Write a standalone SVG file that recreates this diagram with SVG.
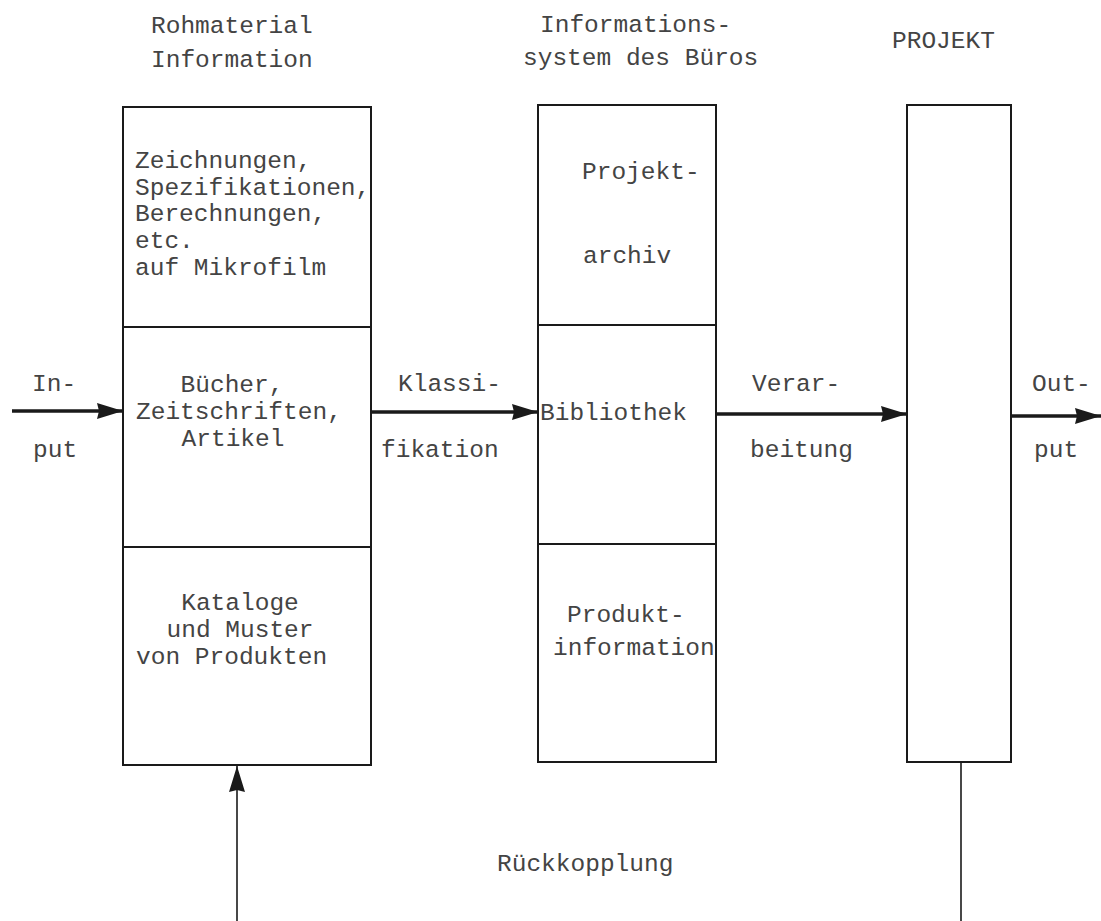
<svg xmlns="http://www.w3.org/2000/svg" width="1101" height="921" viewBox="0 0 1101 921">
<style>
text{font-family:"Liberation Mono","DejaVu Sans Mono",monospace;font-size:24.5px;fill:#444}
.box{fill:none;stroke:#1a1a1a;stroke-width:2}
.thick{stroke:#1a1a1a;stroke-width:3.5;fill:none}
.thin{stroke:#1a1a1a;stroke-width:1.6;fill:none}
.mid{text-anchor:middle}
</style>
<defs>
<marker id="ah" viewBox="0 0 26 16" refX="26" refY="8" markerWidth="26" markerHeight="16" markerUnits="userSpaceOnUse" orient="auto">
<path d="M0,0 L26,8 L0,16 L2,8 Z" fill="#1a1a1a"/>
</marker>
</defs>
<rect width="1101" height="921" fill="#fff"/>
<g id="headings">
<text x="151" y="33">Rohmaterial</text>
<text x="151" y="67">Information</text>
<text x="540" y="32">Informations-</text>
<text x="523" y="65">system des Büros</text>
<text x="892" y="48">PROJEKT</text>
</g>
<g id="rohmaterial">
<rect class="box" x="123" y="107" width="248" height="658"/>
<line class="box" x1="123" y1="327" x2="371" y2="327"/>
<line class="box" x1="123" y1="547" x2="371" y2="547"/>
<g id="mikrofilm">
<text x="135" y="168">Zeichnungen,</text>
<text x="135" y="195">Spezifikationen,</text>
<text x="135" y="221">Berechnungen,</text>
<text x="135" y="248">etc.</text>
<text x="135" y="275">auf Mikrofilm</text>
</g>
<g id="buecher">
<text class="mid" x="232" y="392">Bücher,</text>
<text x="136" y="419">Zeitschriften,</text>
<text class="mid" x="233" y="446">Artikel</text>
</g>
<g id="kataloge">
<text class="mid" x="240" y="610">Kataloge</text>
<text class="mid" x="240" y="637">und Muster</text>
<text x="136" y="664">von Produkten</text>
</g>
</g>
<g id="infosystem">
<rect class="box" x="538" y="105" width="178" height="657"/>
<line class="box" x1="538" y1="325" x2="716" y2="325"/>
<line class="box" x1="538" y1="544" x2="716" y2="544"/>
<g id="projektarchiv">
<text x="582" y="179">Projekt-</text>
<text x="583" y="263">archiv</text>
</g>
<g id="bibliothek">
<text x="540" y="420">Bibliothek</text>
</g>
<g id="produktinfo">
<text x="567" y="622">Produkt-</text>
<text x="553" y="655">information</text>
</g>
</g>
<g id="projekt">
<rect class="box" x="907" y="105" width="104" height="657"/>
</g>
<g id="connectors">
<line class="thick" x1="12" y1="411" x2="123" y2="411" marker-end="url(#ah)"/>
<line class="thick" x1="371" y1="412" x2="538" y2="412" marker-end="url(#ah)"/>
<line class="thick" x1="716" y1="414" x2="907" y2="414" marker-end="url(#ah)"/>
<line class="thick" x1="1011" y1="416" x2="1101" y2="416" marker-end="url(#ah)"/>
<line class="thin" x1="237" y1="921" x2="237" y2="766" marker-end="url(#ah)"/>
<line class="thin" x1="961" y1="762" x2="961" y2="921"/>
</g>
<g id="labels">
<text x="32" y="391">In-</text>
<text x="33" y="457">put</text>
<text x="398" y="391">Klassi-</text>
<text x="381" y="457">fikation</text>
<text x="752" y="391">Verar-</text>
<text x="750" y="457">beitung</text>
<text x="1032" y="391">Out-</text>
<text x="1034" y="457">put</text>
<text x="497" y="871">Rückkopplung</text>
</g>
</svg>
